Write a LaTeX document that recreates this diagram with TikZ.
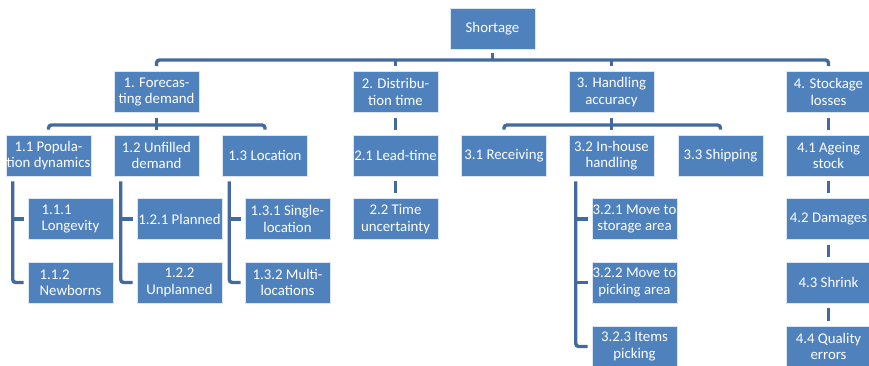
\documentclass[tikz,border=0pt]{standalone}
\usepackage{fontspec}
\setmainfont{Carlito}
\usetikzlibrary{calc}
\definecolor{boxblue}{RGB}{79,129,189}
\definecolor{linkblue}{RGB}{67,106,158}
\begin{document}
\begin{tikzpicture}[x=1pt,y=-1pt,
  box/.style={rectangle, fill=boxblue, draw=white!80!boxblue, line width=0.6pt,
    minimum width=85pt, minimum height=41pt, inner sep=0pt, text=white,
    align=center, font=\fontsize{14.8}{16.5}\selectfont},
  conn/.style={draw=linkblue, line width=3.4pt, rounded corners=3pt}]
\useasboundingbox (0,0) rectangle (869,365);
\clip (0,0) rectangle (869,365);

% root
\node[box] (root) at (492.5,28.5) {Shortage};

% first level
\node[box] (n1) at (156.5,92) {1. Forecas-\\ting demand};
\node[box] (n2) at (395.5,92) {2. Distribu-\\tion time};
\node[box] (n3) at (611.5,92) {3. Handling\\accuracy};
\node[box] (n4) at (828.5,92) {4. Stockage\\losses};

% second level
\node[box] (n11) at (48.5,155.5) {1.1 Popula-\\tion dynamics};
\node[box] (n12) at (156.5,155.5) {1.2 Unfilled\\demand};
\node[box] (n13) at (265,155.5) {1.3 Location};
\node[box] (n21) at (395.5,155.5) {2.1 Lead-time};
\node[box] (n31) at (504,155.5) {3.1 Receiving};
\node[box] (n32) at (611.5,155.5) {3.2 In-house\\handling};
\node[box] (n33) at (720.5,155.5) {3.3 Shipping};
\node[box] (n41) at (828.5,155.5) {4.1 Ageing\\stock};

% third level
\node[box, align=left] (n111) at (70.5,219) {1.1.1\\Longevity};
\node[box, align=left] (n112) at (70.5,282.5) {1.1.2\\Newborns};
\node[box] (n121) at (179.5,219) {1.2.1 Planned};
\node[box] (n122) at (179.5,282.5) {1.2.2\\Unplanned};
\node[box] (n131) at (287.5,219) {1.3.1 Single-\\location};
\node[box] (n132) at (287.5,282.5) {1.3.2 Multi-\\locations};
\node[box] (n22) at (395.5,219) {2.2 Time\\uncertainty};
\node[box] (n321) at (634.5,219) {3.2.1 Move to\\storage area};
\node[box] (n322) at (634.5,282.5) {3.2.2 Move to\\picking area};
\node[box] (n323) at (634.5,346.5) {3.2.3 Items\\picking};
\node[box] (n42) at (828.5,219) {4.2 Damages};
\node[box] (n43) at (828.5,282.5) {4.3 Shrink};
\node[box] (n44) at (828.5,346.5) {4.4 Quality\\errors};

% bus lines
\coordinate (bus0) at (0,60);
\coordinate (bus1) at (0,125);

% root to first level
\draw[conn] ($(root.south)+(0,4)$) -- (root.south |- bus0);
\draw[conn] ($(n1.north)+(0,-5)$) -- (n1.north |- bus0) -- (n4.north |- bus0) -- ($(n4.north)+(0,-5)$);
\draw[conn] (n2.north |- bus0) -- ($(n2.north)+(0,-5)$);
\draw[conn] (n3.north |- bus0) -- ($(n3.north)+(0,-5)$);

% first level to second level
\draw[conn] ($(n1.south)+(0,5)$) -- (n1.south |- bus1);
\draw[conn] ($(n11.north)+(0,-5)$) -- (n11.north |- bus1) -- (n13.north |- bus1) -- ($(n13.north)+(0,-5)$);
\draw[conn] (n12.north |- bus1) -- ($(n12.north)+(0,-5)$);
\draw[conn] ($(n2.south)+(0,5)$) -- ($(n21.north)+(0,-5)$);
\draw[conn] ($(n3.south)+(0,5)$) -- (n3.south |- bus1);
\draw[conn] ($(n31.north)+(0,-5)$) -- (n31.north |- bus1) -- (n33.north |- bus1) -- ($(n33.north)+(0,-5)$);
\draw[conn] (n32.north |- bus1) -- ($(n32.north)+(0,-5)$);
\draw[conn] ($(n4.south)+(0,5)$) -- ($(n41.north)+(0,-5)$);

% side brackets to third level
\coordinate (b11) at ($(n11.south west)+(7,5)$);
\draw[conn] (b11) -- (b11 |- n112.west) -- ($(n112.west)+(-4,0)$);
\draw[conn] (b11 |- n111.west) -- ($(n111.west)+(-4,0)$);
\coordinate (b12) at ($(n12.south west)+(7,5)$);
\draw[conn] (b12) -- (b12 |- n122.west) -- ($(n122.west)+(-4,0)$);
\draw[conn] (b12 |- n121.west) -- ($(n121.west)+(-4,0)$);
\coordinate (b13) at ($(n13.south west)+(7,5)$);
\draw[conn] (b13) -- (b13 |- n132.west) -- ($(n132.west)+(-4,0)$);
\draw[conn] (b13 |- n131.west) -- ($(n131.west)+(-4,0)$);
\coordinate (b32) at ($(n32.south west)+(7,5)$);
\draw[conn] (b32) -- (b32 |- n323.west) -- ($(n323.west)+(-4,0)$);
\draw[conn] (b32 |- n321.west) -- ($(n321.west)+(-4,0)$);
\draw[conn] (b32 |- n322.west) -- ($(n322.west)+(-4,0)$);

% vertical chains
\draw[conn] ($(n21.south)+(0,5)$) -- ($(n22.north)+(0,-5)$);
\draw[conn] ($(n41.south)+(0,5)$) -- ($(n42.north)+(0,-5)$);
\draw[conn] ($(n42.south)+(0,5)$) -- ($(n43.north)+(0,-5)$);
\draw[conn] ($(n43.south)+(0,5)$) -- ($(n44.north)+(0,-5)$);
\end{tikzpicture}
\end{document}
